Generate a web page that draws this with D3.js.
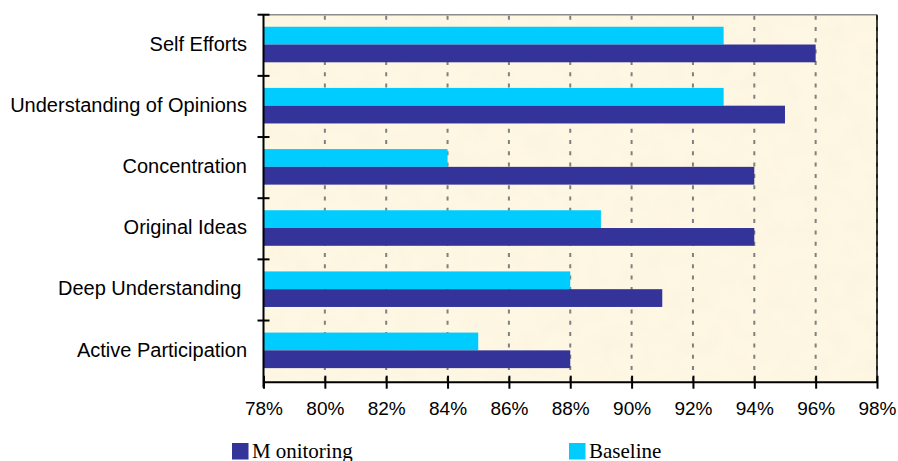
<!DOCTYPE html>
<html>
<head>
<meta charset="utf-8">
<script src="https://cdn.jsdelivr.net/npm/d3@7/dist/d3.min.js"></script>
<style>
  html, body { margin: 0; padding: 0; background: #fff; }
  svg { display: block; }
  .cat-label { white-space: pre; }
</style>
</head>
<body>
<svg id="chart" width="898" height="461"></svg>
<script>
// Survey categories, listed top to bottom
const categories = [
  "Self Efforts",
  "Understanding of Opinions",
  "Concentration",
  "Original Ideas",
  "Deep Understanding ",
  "Active Participation"
];
// Share of positive responses (%)
const baselineValues   = [93, 93, 84, 89, 88, 85];
const monitoringValues = [96, 95, 94, 94, 91, 88];
const seriesNames = ["Baseline", "Monitoring"];
const xTicks = [78, 80, 82, 84, 86, 88, 90, 92, 94, 96, 98];

const colors = { Monitoring: "#333399", Baseline: "#00CCFF" };

const svg = d3.select("#chart");
const plot = { left: 263.5, right: 877, top: 14.7, bottom: 381.7 };

// Parchment-like background texture
const defs = svg.append("defs");
const f = defs.append("filter").attr("id", "paper")
  .attr("x", 0).attr("y", 0).attr("width", "100%").attr("height", "100%");
f.append("feTurbulence").attr("type", "fractalNoise")
  .attr("baseFrequency", 0.045).attr("numOctaves", 3).attr("seed", 7).attr("result", "n");
f.append("feColorMatrix").attr("in", "n").attr("type", "matrix")
  .attr("values", "0 0 0 0 0.93  0 0 0 0 0.86  0 0 0 0 0.70  0 0 0 0.55 -0.18");
f.append("feComposite").attr("in2", "SourceGraphic").attr("operator", "in");

const x = d3.scaleLinear().domain([78, 98]).range([plot.left, plot.right]);
const y = d3.scaleBand().domain(categories).range([plot.top, plot.bottom]).paddingInner(0).paddingOuter(0);
const bandH = y.bandwidth();
const inner = d3.scaleBand().domain(seriesNames)
  .range([bandH * 0.197, bandH * 0.778]).padding(0);

// Plot area fill
svg.append("rect")
  .attr("x", plot.left).attr("y", plot.top)
  .attr("width", plot.right - plot.left).attr("height", plot.bottom - plot.top)
  .attr("fill", "#FEF7E3");
svg.append("rect")
  .attr("x", plot.left).attr("y", plot.top)
  .attr("width", plot.right - plot.left).attr("height", plot.bottom - plot.top)
  .attr("fill", "#FEF7E3")
  .attr("filter", "url(#paper)");

// Dashed vertical gridlines
svg.append("g").selectAll("line")
  .data(xTicks.slice(1))
  .join("line")
  .attr("x1", d => x(d)).attr("x2", d => x(d))
  .attr("y1", plot.top).attr("y2", plot.bottom)
  .attr("stroke", "#808080").attr("stroke-width", 2)
  .attr("stroke-dasharray", "4,7.3")
  .attr("stroke-dashoffset", -1);

// Bars
const rows = categories.map((c, i) => ({
  cat: c,
  vals: [
    { s: "Baseline", v: baselineValues[i] },
    { s: "Monitoring", v: monitoringValues[i] }
  ]
}));
const groups = svg.append("g").selectAll("g")
  .data(rows).join("g")
  .attr("transform", d => `translate(0,${y(d.cat)})`);
groups.selectAll("rect")
  .data(d => d.vals).join("rect")
  .attr("x", x(78))
  .attr("y", d => inner(d.s))
  .attr("width", d => x(d.v) - x(78))
  .attr("height", inner.bandwidth())
  .attr("fill", d => colors[d.s]);

// Plot border: top in gray, right in black
svg.append("line")
  .attr("x1", plot.left).attr("x2", plot.right)
  .attr("y1", plot.top).attr("y2", plot.top)
  .attr("stroke", "#8c8c8c").attr("stroke-width", 1.5);
svg.append("line")
  .attr("x1", plot.right).attr("x2", plot.right)
  .attr("y1", plot.top).attr("y2", plot.bottom)
  .attr("stroke", "#000").attr("stroke-width", 1.5);

// Axes
const font = "'Liberation Sans', Arial, sans-serif";
const xAxis = d3.axisBottom(x).tickValues(xTicks).tickFormat(d => d + "%")
  .tickSizeInner(6).tickSizeOuter(0).tickPadding(20);
const gx = svg.append("g").attr("transform", `translate(0,${plot.bottom})`).call(xAxis);
gx.select(".domain").attr("stroke", "#000").attr("stroke-width", 2);
gx.selectAll(".tick line").attr("stroke", "#000").attr("stroke-width", 2).attr("y1", -6).attr("y2", 7);
gx.selectAll(".tick text").attr("font-family", font).attr("font-size", 19).attr("fill", "#000")
  .attr("dy", "0.4em");

// Category axis with ticks on band boundaries
const gy = svg.append("g");
gy.append("line")
  .attr("x1", plot.left).attr("x2", plot.left)
  .attr("y1", plot.top).attr("y2", plot.bottom + 6)
  .attr("stroke", "#000").attr("stroke-width", 2);
gy.selectAll("line.tk")
  .data(categories.map(c => y(c)))
  .join("line").attr("class", "tk")
  .attr("x1", plot.left - 6).attr("x2", plot.left + 6)
  .attr("y1", d => d).attr("y2", d => d)
  .attr("stroke", "#000").attr("stroke-width", 2);
gy.selectAll("text")
  .data(categories).join("text")
  .attr("class", "cat-label")
  .attr("x", 247)
  .attr("y", d => y(d) + bandH / 2 + 5.5)
  .attr("text-anchor", "end")
  .attr("font-family", font).attr("font-size", 20).attr("fill", "#000")
  .text(d => d);

// Legend
const legend = [
  { s: "Monitoring", x: 232 },
  { s: "Baseline", x: 569 }
];
const lg = svg.append("g").selectAll("g").data(legend).join("g")
  .attr("transform", d => `translate(${d.x},443)`);
lg.append("rect").attr("width", 16.5).attr("height", 16.5).attr("fill", d => colors[d.s]);
const lt = lg.append("text")
  .attr("x", 20).attr("y", 14.5)
  .attr("font-family", "'Liberation Serif', 'Times New Roman', serif")
  .attr("font-size", 21).attr("fill", "#000");
lt.append("tspan").text(d => d.s.charAt(0));
lt.append("tspan").attr("dx", d => d.s === "Monitoring" ? 5 : 0).text(d => d.s.slice(1));
</script>
</body>
</html>
